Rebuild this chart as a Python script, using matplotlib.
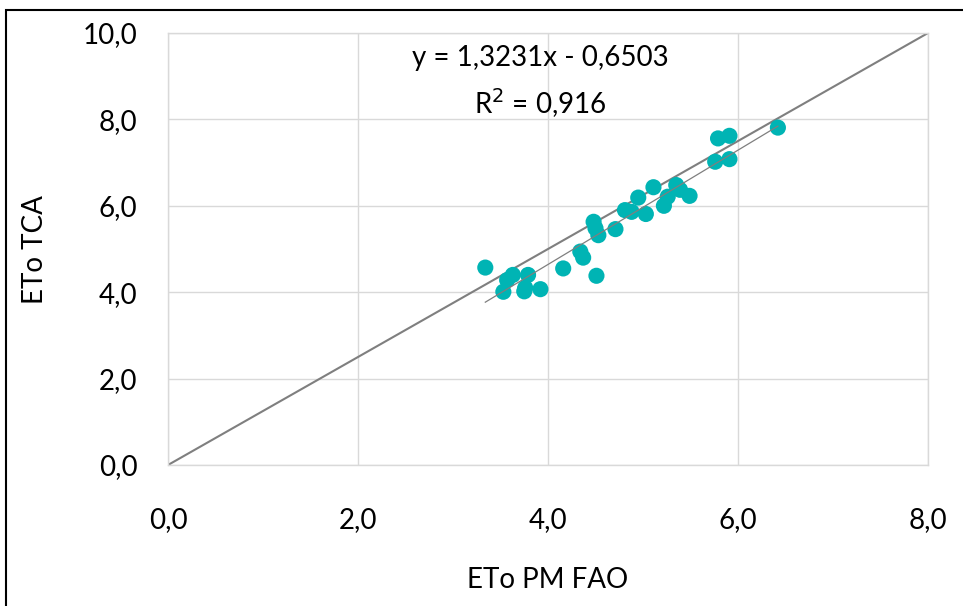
import matplotlib
matplotlib.use("Agg")
import matplotlib.pyplot as plt
from matplotlib.patches import Rectangle
import numpy as np

plt.rcParams['font.family'] = ['Lato', 'DejaVu Sans']

eto_pm_fao = [3.34, 3.53, 3.57, 3.63, 3.76, 3.79, 3.75, 3.92, 4.16, 4.34, 4.37, 4.51,
              4.48, 4.50, 4.53, 4.71, 4.81, 4.88, 4.95, 5.03, 5.11, 5.22, 5.26,
              5.35, 5.39, 5.49, 5.79, 5.91, 5.76, 5.91, 6.42]
eto_tca = [4.57, 4.01, 4.28, 4.40, 4.10, 4.40, 4.02, 4.07, 4.55, 4.94, 4.80, 4.38,
           5.63, 5.48, 5.32, 5.46, 5.90, 5.86, 6.19, 5.81, 6.43, 6.00, 6.21,
           6.48, 6.37, 6.23, 7.56, 7.62, 7.02, 7.08, 7.81]
ref_x = [0.0, 8.0]
ref_y = [0.0, 10.0]
slope = 1.3231
intercept = -0.6503
x_ticks = [0, 2, 4, 6, 8]
x_tick_labels = ["0,0", "2,0", "4,0", "6,0", "8,0"]
y_ticks = [0, 2, 4, 6, 8, 10]
y_tick_labels = ["0,0", "2,0", "4,0", "6,0", "8,0", "10,0"]

fig = plt.figure(figsize=(9.63, 6.06), dpi=100)
ax = fig.add_axes([168/963, 1-465/606, (928-168)/963, (465-33)/606])

ax.plot(ref_x, ref_y, color='#7f7f7f', lw=1.5, zorder=2)
tx = np.array([min(eto_pm_fao), max(eto_pm_fao)])
ax.plot(tx, slope*tx + intercept, color='#7f7f7f', lw=0.9, zorder=4)
ax.scatter(eto_pm_fao, eto_tca, s=135, color='#00B4B4', edgecolors='none', zorder=3)

ax.set_xlim(0, 8)
ax.set_ylim(0, 10)
ax.set_xticks(x_ticks)
ax.set_xticklabels(x_tick_labels)
ax.set_yticks(y_ticks)
ax.set_yticklabels(y_tick_labels)
ax.tick_params(length=0, labelsize=20, colors='black')
ax.tick_params(axis='x', pad=30)
ax.tick_params(axis='y', pad=22)
ax.grid(True, color='#d9d9d9', lw=1)
for s in ax.spines.values():
    s.set_color('#d9d9d9')
    s.set_linewidth(1)
ax.set_axisbelow(True)

ax.text(3.92, 9.42, "y = 1,3231x - 0,6503", ha='center', va='center', fontsize=20)
ax.text(3.92, 8.38, "R$^2$ = 0,916", ha='center', va='center', fontsize=20)

fig.text(35/963, 1-250/606, "ETo TCA", rotation=90, ha='center', va='center', fontsize=20)
fig.text(548/963, 1-580/606, "ETo PM FAO", ha='center', va='center', fontsize=20)

fig.patches.append(Rectangle((6/963, -0.1), 1.2, 1-10/606+0.1, transform=fig.transFigure,
                             fill=False, edgecolor='black', lw=1.5))

fig.savefig("out.png", dpi=100)
